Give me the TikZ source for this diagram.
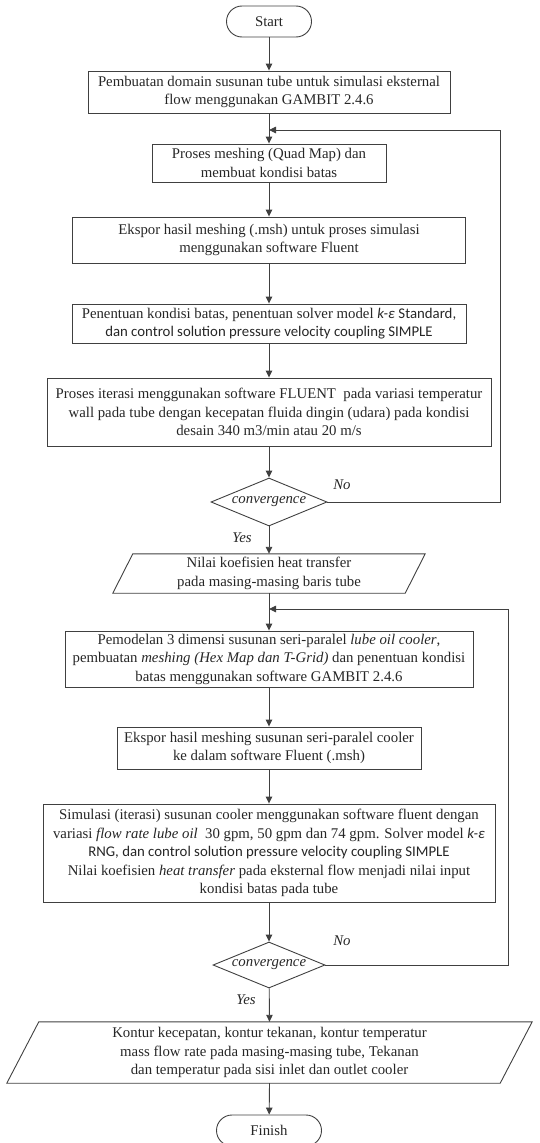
\documentclass[tikz,border=0pt]{standalone}
\usepackage{fontspec}
\setmainfont{Liberation Serif}
\newfontfamily\calib{Carlito}
\usetikzlibrary{arrows.meta,shapes.geometric}

\begin{document}
\begin{tikzpicture}[x=1pt,y=-1pt,
    font=\fontsize{14.8}{18.5}\selectfont,
    line/.style={draw=black!75,line width=0.9pt},
    arr/.style={line,-{Triangle[length=7pt,width=6.5pt]}},
    box/.style={line,text=black!85,align=center,inner sep=0pt},
    term/.style={box,rounded corners=15.5pt,minimum height=31pt},
    dec/.style={box,diamond,shape aspect=2.4,minimum width=116pt,minimum height=48pt,font=\fontsize{14.8}{18.5}\selectfont\itshape},
    io/.style={text=black!85,align=center,inner sep=0pt},
    lab/.style={text=black!85,font=\fontsize{14.8}{18.5}\selectfont\itshape}]
                \useasboundingbox (0,0) rectangle (539,1143);

                \node[term,minimum width=85pt] (s) at (269,21.5) {Start};
                \node[box,minimum width=362pt,minimum height=42pt] (b1) at (269,92) {Pembuatan domain susunan tube untuk simulasi eksternal\\flow menggunakan GAMBIT 2.4.6};
                \node[box,minimum width=234pt,minimum height=38pt] (b2) at (269,163) {Proses meshing (Quad Map) dan\\membuat kondisi batas};
                \node[box,minimum width=393pt,minimum height=46pt] (b3) at (269,240) {Ekspor hasil meshing (.msh) untuk proses simulasi\\menggunakan software Fluent};
                \node[box,minimum width=394pt,minimum height=39pt] (b4) at (269,323.5) {Penentuan kondisi batas, penentuan solver model {\calib\itshape k-ε} {\calib Standard,}\\{\calib dan control solution pressure velocity coupling SIMPLE}};
                \node[box,minimum width=444pt,minimum height=68pt] (b5) at (269,412) {Proses iterasi menggunakan software FLUENT\ \ pada variasi temperatur\\wall pada tube dengan kecepatan fluida dingin (udara) pada kondisi\\desain 340 m3/min atau 20 m/s};
                \node[dec] (d1) at (269,502) {convergence};
                \node[io,minimum width=292pt,minimum height=39pt] (p1) at (269,573.5) {Nilai koefisien heat transfer\\pada masing-masing baris tube};
                \node[box,minimum width=408pt,minimum height=56pt] (b6) at (269,659) {Pemodelan 3 dimensi susunan seri-paralel \textit{lube oil cooler},\\pembuatan \textit{meshing (Hex Map dan T-Grid)} dan penentuan kondisi\\batas menggunakan software GAMBIT 2.4.6};
                \node[box,minimum width=304pt,minimum height=42pt] (b7) at (269,748) {Ekspor hasil meshing susunan seri-paralel cooler\\ke dalam software Fluent (.msh)};
                \node[box,minimum width=452pt,minimum height=98pt] (b8) at (269,853) {Simulasi (iterasi) susunan cooler menggunakan software fluent dengan\\variasi \textit{flow rate lube oil}\ \ 30 gpm, 50 gpm dan 74 gpm. Solver model {\calib\itshape k-ε}\\{\calib RNG, dan control solution pressure velocity coupling SIMPLE}\\Nilai koefisien \textit{heat transfer} pada eksternal flow menjadi nilai input\\kondisi batas pada tube};
                \node[dec,minimum width=112pt,minimum height=46pt] (d2) at (269,965) {convergence};
                \node[io,minimum width=493pt,minimum height=61pt] (p2) at (269.5,1052.5) {Kontur kecepatan, kontur tekanan, kontur temperatur\\mass flow rate pada masing-masing tube, Tekanan\\dan temperatur pada sisi inlet dan outlet cooler};
                \node[term,minimum width=105pt] (f) at (269,1130.5) {Finish};

                \node[lab] (n1) at (342,485) {No};
                \node[lab] (y1) at (242,538) {Yes};
                \node[lab] (n2) at (342,941) {No};
                \node[lab] (y2) at (246,1000) {Yes};

                \coordinate (j1) at (269,130); \coordinate (r1) at (500,130);
                \coordinate (j2) at (269,609); \coordinate (r2) at (508,609);

                \draw[line] ([xshift=10pt]p1.north west) -- ([xshift=10pt]p1.north east) -- ([xshift=-10pt]p1.south east) -- ([xshift=-10pt]p1.south west) -- cycle;
                \draw[line] ([xshift=16pt]p2.north west) -- ([xshift=16pt]p2.north east) -- ([xshift=-16pt]p2.south east) -- ([xshift=-16pt]p2.south west) -- cycle;

                \draw[arr] (s) -- (b1); \draw[arr] (b1) -- (b2); \draw[arr] (b2) -- (b3); \draw[arr] (b3) -- (b4);
                \draw[arr] (b4) -- (b5); \draw[arr] (b5) -- (d1); \draw[arr] (d1) -- (p1.north);
                \draw[arr] (p1.south) -- (b6); \draw[arr] (b6) -- (b7); \draw[arr] (b7) -- (b8);
                \draw[arr] (b8) -- (d2); \draw[arr] (d2) -- (p2.north); \draw[arr] (p2.south) -- (f);
                \draw[arr] (d1.east) -| (r1) -- (j1);
                \draw[arr] (d2.east) -| (r2) -- (j2);
            \end{tikzpicture}
\end{document}
